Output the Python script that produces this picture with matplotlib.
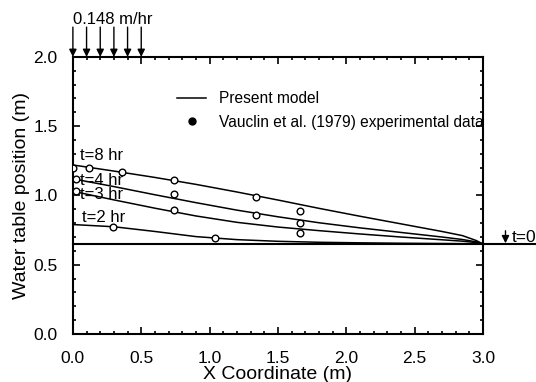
import matplotlib
matplotlib.use("Agg")
import matplotlib.pyplot as plt
from matplotlib.lines import Line2D
from matplotlib.ticker import MultipleLocator, FormatStrFormatter

plt.rcParams['font.family'] = ['Liberation Sans', 'DejaVu Sans']

# Model curves (x in m, water table position in m)
x_model = [0.0, 0.3, 0.6, 0.9, 1.2, 1.5, 1.8, 2.1, 2.4, 2.7, 2.85, 2.95, 3.0]
y_t8 = [1.22, 1.176, 1.13, 1.08, 1.025, 0.967, 0.907, 0.85, 0.795, 0.74, 0.71, 0.675, 0.65]
y_t4 = [1.12, 1.064, 1.005, 0.948, 0.894, 0.846, 0.803, 0.766, 0.733, 0.70, 0.682, 0.665, 0.65]
y_t3 = [1.03, 0.968, 0.908, 0.852, 0.806, 0.772, 0.746, 0.722, 0.70, 0.68, 0.67, 0.66, 0.65]
y_t2 = [0.79, 0.774, 0.74, 0.703, 0.681, 0.669, 0.662, 0.658, 0.655, 0.653, 0.652, 0.651, 0.65]
initial_level = 0.65

# Experimental data (Vauclin et al. 1979)
obs_x_t8 = [0.0, 0.12, 0.36, 0.74, 1.34, 1.66]
obs_y_t8 = [1.20, 1.20, 1.17, 1.11, 0.99, 0.89]
obs_x_t4 = [0.02, 0.74, 1.34, 1.66]
obs_y_t4 = [1.12, 1.01, 0.86, 0.80]
obs_x_t3 = [0.02, 0.74, 1.66]
obs_y_t3 = [1.03, 0.895, 0.73]
obs_x_t2 = [0.29, 1.04]
obs_y_t2 = [0.77, 0.69]

rain_x = [0.0, 0.1, 0.2, 0.3, 0.4, 0.5]
curve_labels = ["t=8 hr", "t=4 hr", "t=3 hr", "t=2 hr"]
label_y = [1.29, 1.11, 1.01, 0.84]

fig = plt.figure(figsize=(5.36, 3.82), dpi=100)
ax = fig.add_axes([0.136, 0.1257, 0.765, 0.7253])

ax.set_xlim(0, 3.0)
ax.set_ylim(0, 2.0)

for yy in (y_t8, y_t4, y_t3, y_t2):
    ax.plot(x_model, yy, color='k', lw=1.1)

ax.plot([0, 3.38], [initial_level, initial_level], color='k', lw=1.5, clip_on=False)

for ox, oy in ((obs_x_t8, obs_y_t8), (obs_x_t4, obs_y_t4), (obs_x_t3, obs_y_t3), (obs_x_t2, obs_y_t2)):
    ax.plot(ox, oy, ls='none', marker='o', ms=4.8, mfc='white', mec='k', mew=1.0, zorder=3)

for lab, ly, lx in zip(curve_labels, label_y, [0.05, 0.05, 0.05, 0.07]):
    ax.text(lx, ly, lab, fontsize=12, va='center', ha='left')

# rainfall arrows
for rx in rain_x:
    ax.annotate('', xy=(rx, 2.0), xytext=(rx, 2.215),
                arrowprops=dict(arrowstyle='-|>', color='k', lw=1.0,
                                mutation_scale=11, shrinkA=0, shrinkB=0),
                annotation_clip=False)
ax.text(0.0, 2.267, "0.148 m/hr", fontsize=12, va='center', ha='left', clip_on=False)

# t=0 marker
ax.annotate('', xy=(3.165, initial_level + 0.005), xytext=(3.165, 0.745),
            arrowprops=dict(arrowstyle='-|>', color='k', lw=1.0,
                            mutation_scale=11, shrinkA=0, shrinkB=0),
            annotation_clip=False)
ax.text(3.21, 0.70, "t=0", fontsize=12.5, va='center', ha='left', clip_on=False)

handles = [Line2D([], [], color='k', lw=1.1),
           Line2D([], [], color='k', ls='none', marker='o', ms=5)]
leg = ax.legend(handles, ["Present model", "Vauclin et al. (1979) experimental data"],
                loc='upper left', bbox_to_anchor=(0.255, 0.876), frameon=False,
                fontsize=11.2, handlelength=1.85, handletextpad=0.8,
                labelspacing=0.55, borderpad=0, borderaxespad=0)

ax.xaxis.set_major_locator(MultipleLocator(0.5))
ax.xaxis.set_minor_locator(MultipleLocator(0.1))
ax.yaxis.set_major_locator(MultipleLocator(0.5))
ax.yaxis.set_minor_locator(MultipleLocator(0.1))
ax.xaxis.set_major_formatter(FormatStrFormatter('%.1f'))
ax.yaxis.set_major_formatter(FormatStrFormatter('%.1f'))
ax.tick_params(which='both', direction='in', top=True, right=True, width=1.2)
ax.tick_params(which='major', length=5, labelsize=12.5)
ax.tick_params(which='minor', length=2.5)
ax.tick_params(axis='x', pad=12)
ax.tick_params(axis='y', pad=11)
for s in ax.spines.values():
    s.set_linewidth(1.5)

ax.set_xlabel("X Coordinate (m)", fontsize=14, labelpad=0)
ax.set_ylabel("Water table position (m)", fontsize=14, labelpad=2)

fig.savefig("out.png", dpi=100)
